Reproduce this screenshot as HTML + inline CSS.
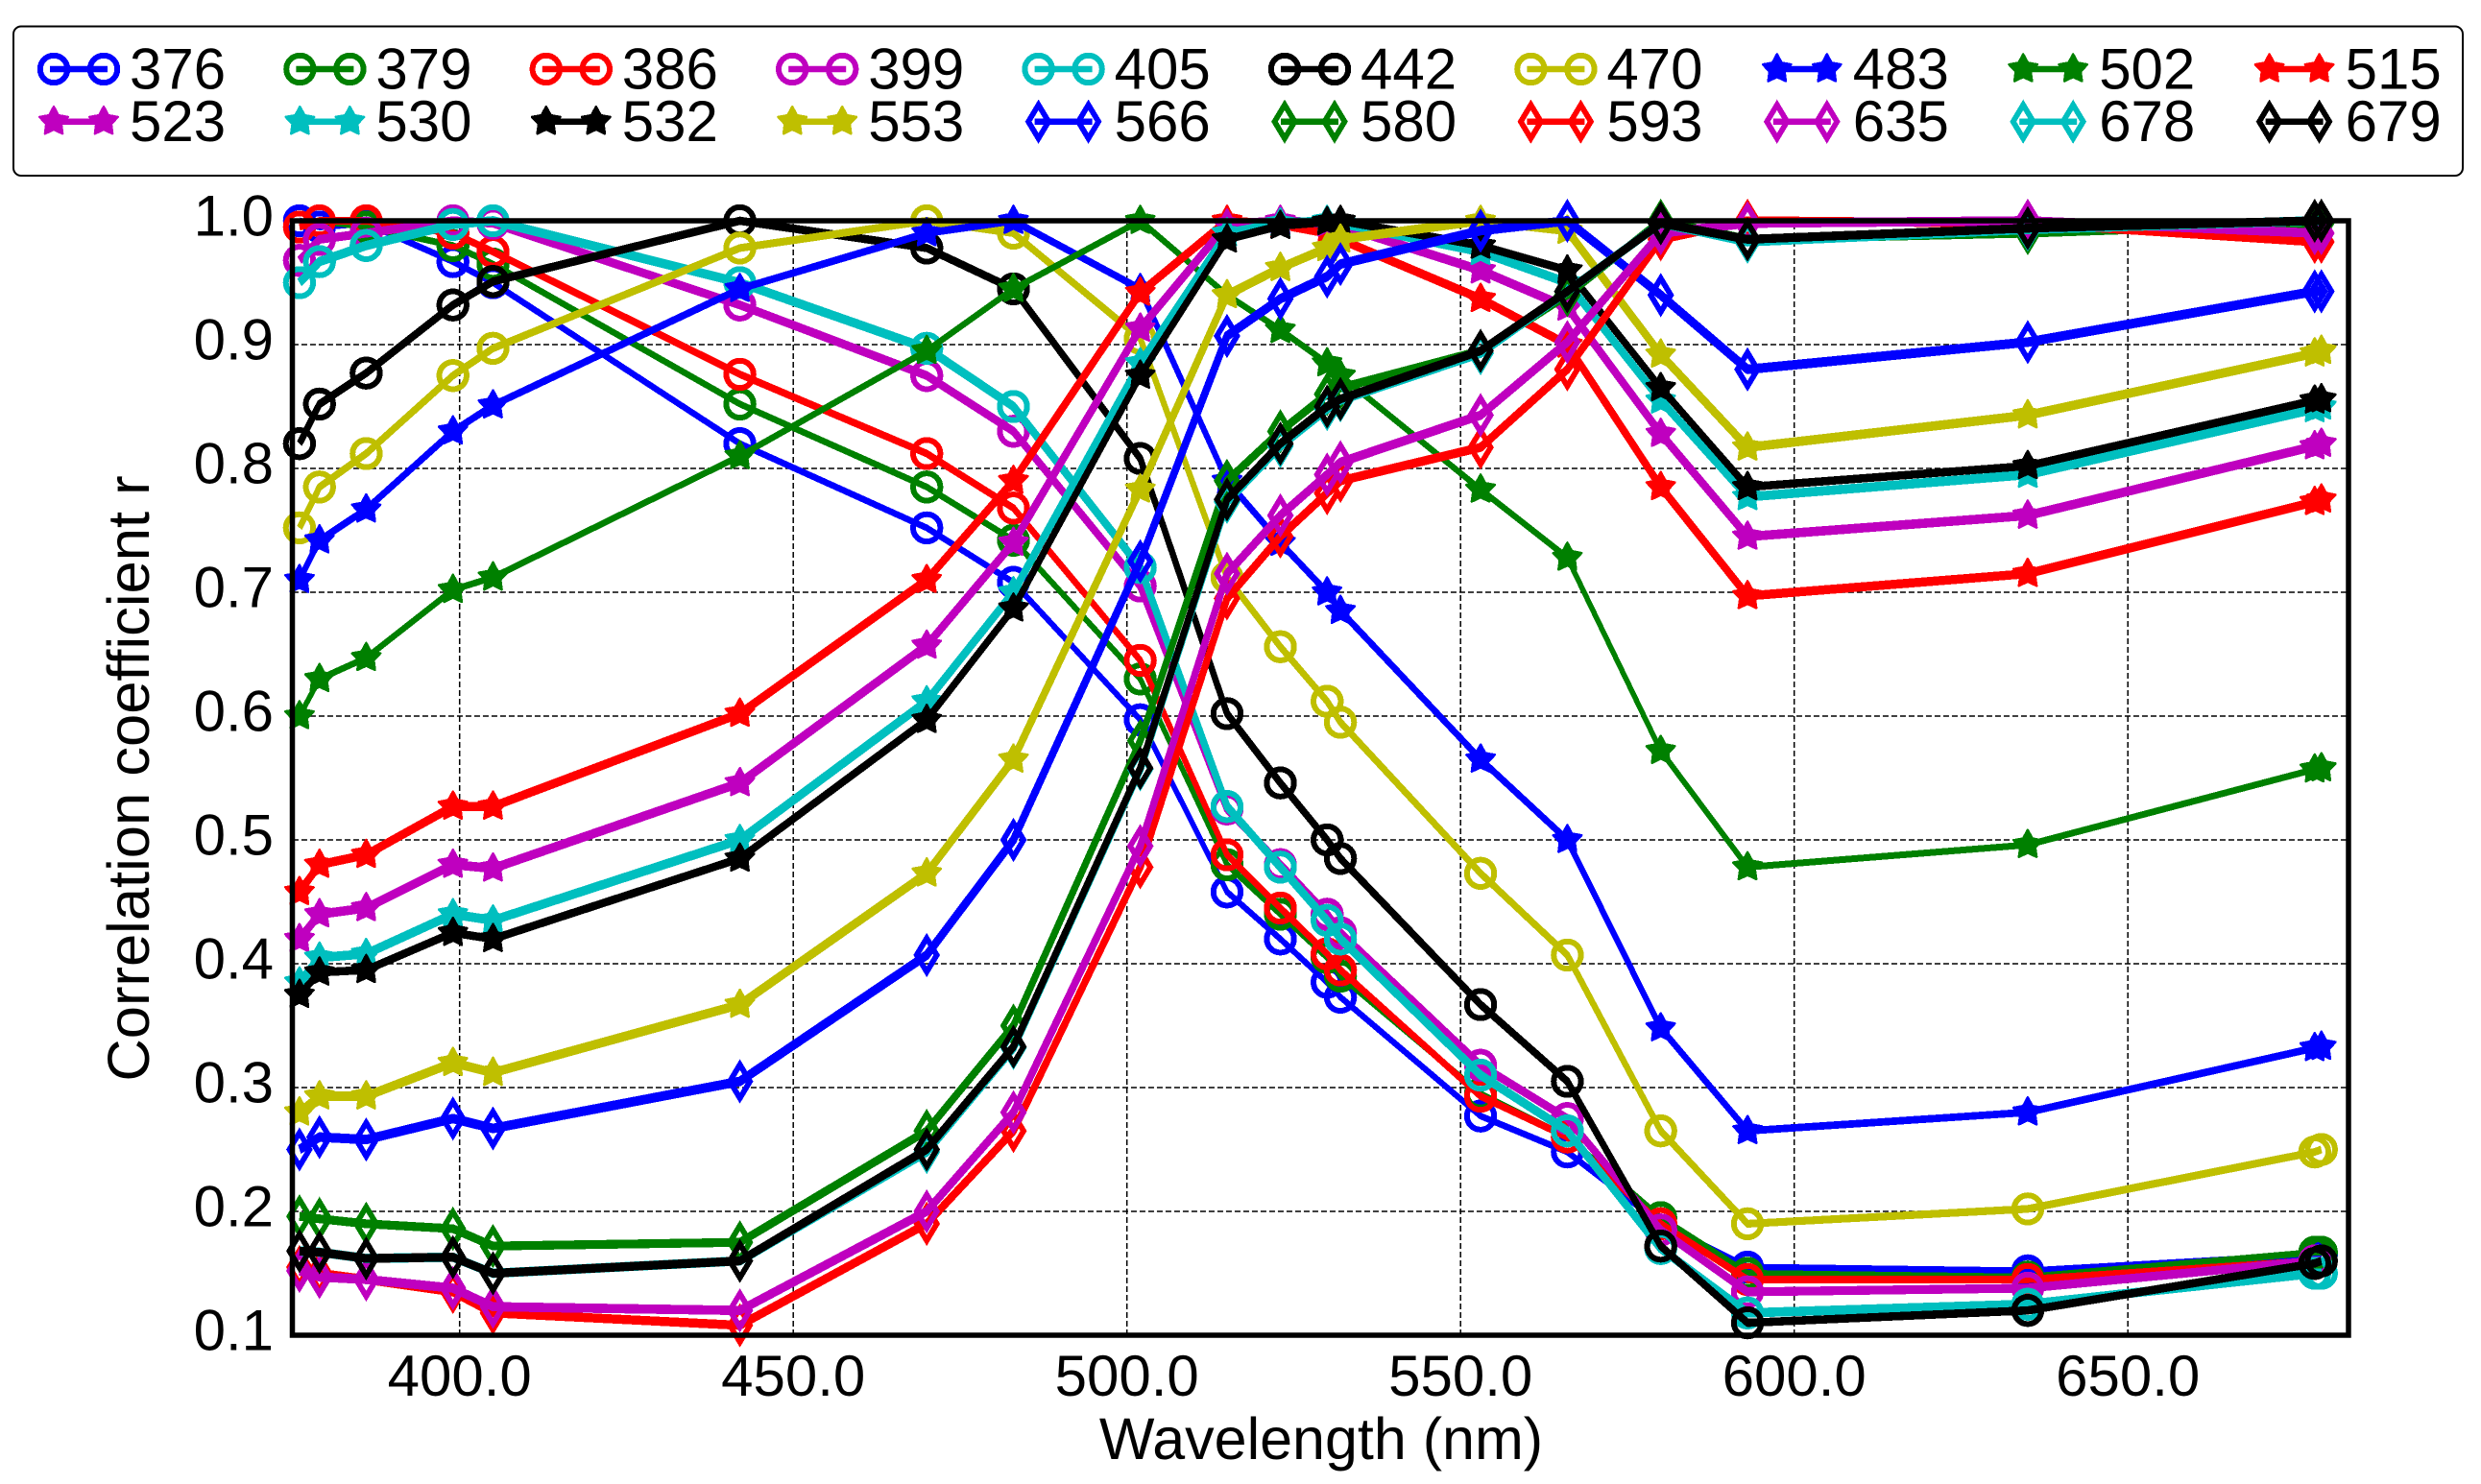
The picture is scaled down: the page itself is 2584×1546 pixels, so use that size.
<!DOCTYPE html>
<html lang="en">
<head>
<meta charset="utf-8">
<title>Correlation coefficient vs wavelength</title>
<style>
html,body{margin:0;padding:0;background:#fff;}
body{width:2584px;height:1546px;overflow:hidden;}
svg{display:block;}
text{font-family:"Liberation Sans",sans-serif;font-size:60px;fill:#000;}
</style>
</head>
<body>
<svg id="chart" xmlns="http://www.w3.org/2000/svg" width="2584" height="1546" viewBox="0 0 2584 1546">
  <rect x="0" y="0" width="2584" height="1546" fill="#fff"/>
  <g id="grid"></g>
  <g id="series"></g>
  <rect x="304.5" y="230" width="2141.5" height="1161" fill="none" stroke="#000" stroke-width="5.5"/>
  <g id="xticks"></g>
  <g id="yticks"></g>
  <text x="1376" y="1520" text-anchor="middle" style="font-size:61px">Wavelength (nm)</text>
  <text transform="translate(155,811) rotate(-90)" text-anchor="middle" style="font-size:61.5px">Correlation coefficient r</text>
  <g id="legend">
    <rect x="14" y="27.5" width="2551" height="155.5" rx="8" ry="8" fill="#fff" stroke="#000" stroke-width="2"/>
  </g>
</svg>
<script>
const wavelengths = [376, 379, 386, 399, 405, 442, 470, 483, 502, 515, 523, 530, 532, 553, 566, 580, 593, 635, 678, 679];
const seriesLabels = ['376', '379', '386', '399', '405', '442', '470', '483', '502', '515', '523', '530', '532', '553', '566', '580', '593', '635', '678', '679'];
const xTickValues = [400, 450, 500, 550, 600, 650];
const yTickValues = [0.1, 0.2, 0.3, 0.4, 0.5, 0.6, 0.7, 0.8, 0.9, 1.0];

const values376 = [1.000, 0.995, 0.998, 0.967, 0.950, 0.820, 0.752, 0.708, 0.597, 0.458, 0.420, 0.385, 0.373, 0.277, 0.248, 0.190, 0.155, 0.152, 0.165, 0.165];
const values379 = [0.995, 1.000, 0.995, 0.980, 0.965, 0.852, 0.785, 0.742, 0.630, 0.480, 0.440, 0.405, 0.390, 0.295, 0.260, 0.195, 0.150, 0.147, 0.167, 0.167];
const values386 = [0.995, 1.000, 1.000, 0.990, 0.975, 0.876, 0.812, 0.768, 0.645, 0.488, 0.445, 0.408, 0.395, 0.293, 0.260, 0.190, 0.145, 0.145, 0.160, 0.160];
const values399 = [0.968, 0.985, 0.990, 1.000, 0.998, 0.932, 0.875, 0.830, 0.705, 0.525, 0.480, 0.440, 0.425, 0.318, 0.275, 0.185, 0.135, 0.138, 0.160, 0.160];
const values405 = [0.950, 0.967, 0.980, 0.997, 1.000, 0.950, 0.897, 0.850, 0.720, 0.527, 0.478, 0.435, 0.420, 0.310, 0.265, 0.170, 0.118, 0.125, 0.150, 0.150];
const values442 = [0.820, 0.852, 0.877, 0.932, 0.951, 1.000, 0.978, 0.945, 0.808, 0.602, 0.546, 0.500, 0.485, 0.367, 0.305, 0.172, 0.110, 0.120, 0.158, 0.160];
const values470 = [0.752, 0.785, 0.812, 0.875, 0.897, 0.978, 1.000, 0.990, 0.905, 0.712, 0.656, 0.612, 0.595, 0.473, 0.407, 0.265, 0.190, 0.202, 0.248, 0.250];
const values483 = [0.710, 0.742, 0.767, 0.830, 0.851, 0.945, 0.990, 1.000, 0.945, 0.790, 0.740, 0.700, 0.685, 0.565, 0.500, 0.348, 0.265, 0.280, 0.332, 0.333];
const values502 = [0.600, 0.630, 0.647, 0.702, 0.712, 0.810, 0.895, 0.945, 1.000, 0.940, 0.912, 0.885, 0.875, 0.783, 0.728, 0.572, 0.478, 0.496, 0.557, 0.558];
const values515 = [0.458, 0.480, 0.488, 0.527, 0.527, 0.602, 0.710, 0.790, 0.942, 1.000, 0.997, 0.990, 0.985, 0.937, 0.900, 0.785, 0.697, 0.715, 0.773, 0.775];
const values523 = [0.420, 0.440, 0.445, 0.480, 0.477, 0.546, 0.657, 0.740, 0.913, 0.997, 1.000, 0.998, 0.996, 0.960, 0.930, 0.828, 0.745, 0.762, 0.818, 0.820];
const values530 = [0.385, 0.405, 0.408, 0.440, 0.435, 0.500, 0.612, 0.700, 0.885, 0.990, 0.998, 1.000, 0.998, 0.975, 0.950, 0.855, 0.777, 0.795, 0.848, 0.850];
const values532 = [0.375, 0.393, 0.395, 0.425, 0.420, 0.485, 0.597, 0.687, 0.875, 0.985, 0.996, 0.999, 1.000, 0.980, 0.960, 0.865, 0.785, 0.802, 0.855, 0.856];
const values553 = [0.280, 0.293, 0.293, 0.320, 0.312, 0.367, 0.473, 0.565, 0.783, 0.940, 0.962, 0.978, 0.985, 1.000, 0.992, 0.892, 0.817, 0.843, 0.893, 0.895];
const values566 = [0.250, 0.260, 0.258, 0.275, 0.267, 0.305, 0.407, 0.500, 0.725, 0.907, 0.937, 0.955, 0.965, 0.992, 1.000, 0.940, 0.880, 0.902, 0.943, 0.943];
const values580 = [0.196, 0.194, 0.190, 0.186, 0.172, 0.175, 0.265, 0.350, 0.580, 0.790, 0.830, 0.860, 0.865, 0.895, 0.940, 1.000, 0.985, 0.990, 0.998, 0.998];
const values593 = [0.155, 0.150, 0.145, 0.135, 0.118, 0.108, 0.190, 0.265, 0.478, 0.695, 0.745, 0.780, 0.790, 0.817, 0.880, 0.985, 1.000, 0.998, 0.983, 0.983];
const values635 = [0.152, 0.147, 0.145, 0.138, 0.123, 0.120, 0.200, 0.280, 0.495, 0.715, 0.762, 0.795, 0.805, 0.843, 0.902, 0.990, 0.998, 1.000, 0.990, 0.990];
const values678 = [0.168, 0.167, 0.162, 0.163, 0.150, 0.160, 0.248, 0.332, 0.557, 0.773, 0.818, 0.848, 0.855, 0.893, 0.943, 0.998, 0.983, 0.993, 1.000, 1.000];
const values679 = [0.168, 0.167, 0.162, 0.163, 0.150, 0.160, 0.250, 0.333, 0.558, 0.775, 0.820, 0.850, 0.856, 0.895, 0.943, 0.998, 0.985, 0.994, 1.000, 1.000];

const allValues = [values376, values379, values386, values399, values405, values442, values470, values483, values502, values515, values523, values530, values532, values553, values566, values580, values593, values635, values678, values679];

const colorCycle = ['#0000ff', '#008000', '#ff0000', '#bf00bf', '#00bfbf', '#000000', '#bfbf00'];
const penWidths = [5.2, 5.2, 5.8, 6.8, 7.2, 6.4, 6, 5.8, 5.2, 7, 7.2, 7.2, 6.4, 7.2, 7.4, 6.8, 7, 7.2, 7.2, 6.8];
const PEN_STRETCH = 1.35;
const SVGNS = 'http://www.w3.org/2000/svg';

function xScale(nm) { return 478.7 + (nm - 400) * 6.95; }
function yScale(r) { return 230 + (1 - r) * 1290; }
function markerKind(i) { return i < 7 ? 'circle' : (i < 14 ? 'star' : 'diamond'); }
function colorOf(i) { return colorCycle[i % colorCycle.length]; }

function starPoints(cx, cy, outer, inner) {
  const pts = [];
  for (let k = 0; k < 10; k++) {
    const rad = k % 2 === 0 ? outer : inner;
    const ang = -Math.PI / 2 + k * Math.PI / 5;
    pts.push((cx + rad * Math.cos(ang)).toFixed(1) + ',' + (cy + rad * Math.sin(ang)).toFixed(1));
  }
  return pts.join(' ');
}
function diamondPoints(cx, cy) {
  return cx + ',' + (cy - 17.5) + ' ' + (cx + 10.5) + ',' + cy + ' ' + cx + ',' + (cy + 17.5) + ' ' + (cx - 10.5) + ',' + cy;
}
function drawMarker(parent, kind, cx, cy, color) {
  let el;
  if (kind === 'circle') {
    el = document.createElementNS(SVGNS, 'circle');
    el.setAttribute('cx', cx);
    el.setAttribute('cy', cy);
    el.setAttribute('r', 14.2);
    el.setAttribute('fill', 'none');
    el.setAttribute('stroke', color);
    el.setAttribute('stroke-width', 6);
  } else if (kind === 'star') {
    el = document.createElementNS(SVGNS, 'polygon');
    el.setAttribute('points', starPoints(cx, cy, 15.5, 8.2));
    el.setAttribute('fill', color);
    el.setAttribute('stroke', color);
    el.setAttribute('stroke-width', 2.5);
    el.setAttribute('stroke-linejoin', 'round');
  } else {
    el = document.createElementNS(SVGNS, 'polygon');
    el.setAttribute('points', diamondPoints(cx, cy));
    el.setAttribute('fill', 'none');
    el.setAttribute('stroke', color);
    el.setAttribute('stroke-width', 5.8);
    el.setAttribute('stroke-miterlimit', 10);
  }
  
  
  el.setAttribute('shape-rendering', 'crispEdges');
  parent.appendChild(el);
}

const gridGroup = document.getElementById('grid');
xTickValues.forEach(function (v) {
  const line = document.createElementNS(SVGNS, 'line');
  
  
  line.setAttribute('x1', xScale(v));
  line.setAttribute('x2', xScale(v));
  line.setAttribute('y1', yScale(0.1));
  line.setAttribute('y2', yScale(1));
  line.setAttribute('stroke', '#000');
  line.setAttribute('stroke-width', 1.5);
  line.setAttribute('stroke-dasharray', '6 3');
  gridGroup.appendChild(line);
});
yTickValues.slice(1, -1).forEach(function (v) {
  const line = document.createElementNS(SVGNS, 'line');
  
  
  line.setAttribute('x1', xScale(375));
  line.setAttribute('x2', xScale(683));
  line.setAttribute('y1', yScale(v));
  line.setAttribute('y2', yScale(v));
  line.setAttribute('stroke', '#000');
  line.setAttribute('stroke-width', 1.5);
  line.setAttribute('stroke-dasharray', '6 3');
  gridGroup.appendChild(line);
});

const xTickGroup = document.getElementById('xticks');
xTickValues.forEach(function (v) {
  const t = document.createElementNS(SVGNS, 'text');
  
  
  t.setAttribute('x', xScale(v));
  t.setAttribute('y', 1454);
  t.setAttribute('text-anchor', 'middle');
  t.textContent = v.toFixed(1);
  xTickGroup.appendChild(t);
});
const yTickGroup = document.getElementById('yticks');
yTickValues.forEach(function (v) {
  const t = document.createElementNS(SVGNS, 'text');
  
  
  t.setAttribute('x', 285);
  t.setAttribute('y', yScale(v) + 15.5);
  t.setAttribute('text-anchor', 'end');
  t.textContent = v.toFixed(1);
  yTickGroup.appendChild(t);
});

const seriesGroup = document.getElementById('series');
allValues.forEach(function (vals, i) {
  const g = document.createElementNS(SVGNS, 'g');
  
  

  const penGroup = document.createElementNS(SVGNS, 'g');
  penGroup.setAttribute('transform', 'scale(1,' + PEN_STRETCH + ')');
  const line = document.createElementNS(SVGNS, 'polyline');
  
  
  line.setAttribute('points', vals.map(function (v, j) {
    return xScale(wavelengths[j]).toFixed(1) + ',' + (yScale(v) / PEN_STRETCH).toFixed(2);
  }).join(' '));
  line.setAttribute('fill', 'none');
  line.setAttribute('stroke', colorOf(i));
  line.setAttribute('stroke-width', penWidths[i]);
  line.setAttribute('stroke-linejoin', 'round');
  line.setAttribute('shape-rendering', 'crispEdges');
  penGroup.appendChild(line);
  g.appendChild(penGroup);

  vals.forEach(function (v, j) {
    drawMarker(g, markerKind(i), xScale(wavelengths[j]), yScale(v), colorOf(i));
  });
  seriesGroup.appendChild(g);
});

const legendGroup = document.getElementById('legend');
seriesLabels.forEach(function (label, i) {
  const col = i % 10;
  const row = Math.floor(i / 10);
  const col0 = 56 + col * 256.4;
  const rowY = 72 + row * 54.7;
  const entry = document.createElementNS(SVGNS, 'g');
  
  

  const sample = document.createElementNS(SVGNS, 'line');
  
  
  sample.setAttribute('x1', col0 - 4);
  sample.setAttribute('x2', col0 + 56);
  sample.setAttribute('y1', rowY);
  sample.setAttribute('y2', rowY);
  sample.setAttribute('stroke', colorOf(i));
  sample.setAttribute('stroke-width', 6.5);
  entry.appendChild(sample);

  drawMarker(entry, markerKind(i), col0, rowY, colorOf(i));
  drawMarker(entry, markerKind(i), col0 + 52, rowY, colorOf(i));

  const t = document.createElementNS(SVGNS, 'text');
  
  
  t.setAttribute('x', col0 + 79);
  t.setAttribute('y', rowY + 20.5);
  t.textContent = label;
  entry.appendChild(t);

  legendGroup.appendChild(entry);
});
</script>
</body>
</html>
